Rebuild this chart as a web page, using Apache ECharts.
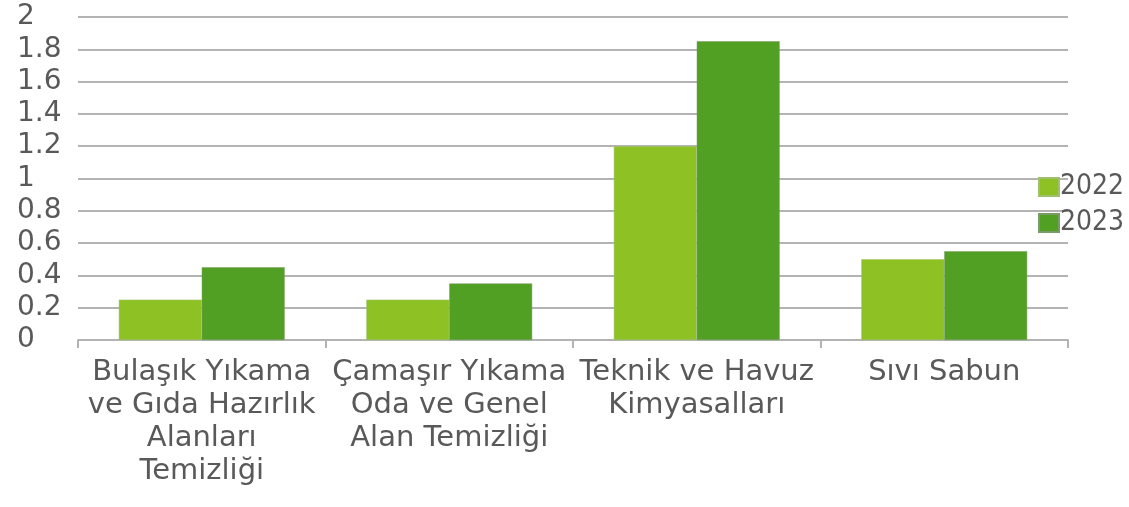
<!DOCTYPE html>
<html>
<head>
<meta charset="utf-8">
<script src="https://cdn.jsdelivr.net/npm/echarts@6/dist/echarts.min.js"></script>
<style>html,body{margin:0;padding:0;background:#fff}#c{width:1129px;height:507px}</style>
</head>
<body>
<div id="c"></div>
<script>
const categories = [
  "Bulaşık Yıkama\nve Gıda Hazırlık\nAlanları\nTemizliği",
  "Çamaşır Yıkama\nOda ve Genel\nAlan Temizliği",
  "Teknik ve Havuz\nKimyasalları",
  "Sıvı Sabun"
];
const seriesNames = ["2022", "2023"];
const values2022 = [0.25, 0.25, 1.2, 0.5];
const values2023 = [0.45, 0.35, 1.85, 0.55];
const yTicks = [0, 0.2, 0.4, 0.6, 0.8, 1, 1.2, 1.4, 1.6, 1.8, 2];

const chart = echarts.init(document.getElementById('c'));
chart.setOption({
  animation: false,
  backgroundColor: '#ffffff',
  grid: { left: 78, right: 61, top: 17, bottom: 167, containLabel: false },
  legend: {
    orient: 'vertical',
    left: 1033,
    top: 168,
    itemWidth: 20,
    itemHeight: 18,
    itemGap: 8,
    icon: 'rect',
    textStyle: { fontFamily: 'DejaVu Sans Condensed, DejaVu Sans', fontSize: 28, color: '#595959', padding: [0, 0, 0, -4] },
    data: seriesNames
  },
  xAxis: {
    type: 'category',
    data: categories,
    axisLine: { show: true, lineStyle: { color: '#b3b3b3', width: 2 } },
    axisTick: { show: true, inside: false, length: 8, alignWithLabel: false, lineStyle: { color: '#b3b3b3', width: 2 } },
    axisLabel: {
      interval: 0,
      margin: 16,
      fontFamily: 'DejaVu Sans',
      fontSize: 29,
      lineHeight: 33,
      color: '#595959',
      align: 'center'
    }
  },
  yAxis: {
    type: 'value',
    min: 0,
    max: 2,
    interval: 0.2,
    axisLine: { show: false },
    axisTick: { show: false },
    splitLine: { show: true, lineStyle: { color: '#b3b3b3', width: 2 } },
    axisLabel: {
      align: 'left',
      margin: 61,
      fontFamily: 'DejaVu Sans',
      fontSize: 28,
      color: '#595959',
      formatter: function (v) {
        const t = yTicks.find(x => Math.abs(x - v) < 1e-9);
        return t === undefined ? '' : String(t);
      }
    }
  },
  series: [
    {
      name: seriesNames[0],
      type: 'bar',
      data: values2022,
      barGap: '0%',
      barCategoryGap: '33%',
      itemStyle: { color: '#8dc124', borderColor: '#a0c070', borderWidth: 0.5 }
    },
    {
      name: seriesNames[1],
      type: 'bar',
      data: values2023,
      barGap: '0%',
      barCategoryGap: '33%',
      itemStyle: { color: '#52a023', borderColor: '#7a9a6a', borderWidth: 0.5 }
    }
  ]
});
</script>
</body>
</html>
